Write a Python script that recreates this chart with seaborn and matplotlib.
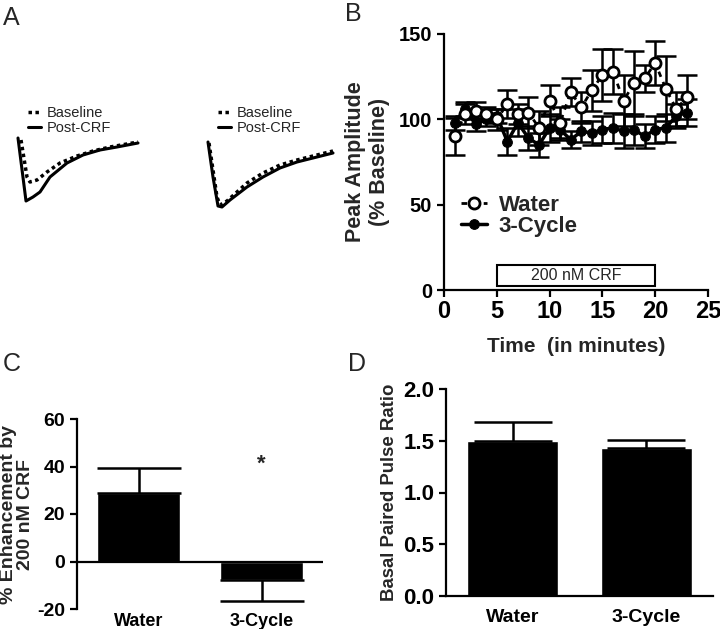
import matplotlib
matplotlib.use("Agg")
from matplotlib import pyplot as plt
from matplotlib.patches import Rectangle
import pandas as pd
import seaborn as sns
import numpy as np

# Panel A traces (time in ms, current in arbitrary units)
left_post_t = [0, 8, 15, 22, 32, 49, 65, 82, 99, 120]
left_post_i = [0, -63, -59, -54, -39, -25, -17, -12, -9, -5]
left_base_t = [3, 9, 12, 19, 29, 42, 59, 75, 92, 120]
left_base_i = [-2, -39, -44, -42, -34, -25, -18, -13, -9, -4]
right_post_t = [0, 5, 10, 14, 22, 39, 55, 72, 89, 105, 125]
right_post_i = [-1, -36, -65, -66, -59, -46, -36, -27, -21, -17, -12]
right_base_t = [1, 9, 12, 19, 29, 39, 55, 72, 89, 105, 125]
right_base_i = [-2, -56, -64, -60, -51, -42, -32, -24, -19, -15, -10]

# Panel B time course
minutes = list(range(1, 24))
water_amp = [90, 103, 105, 103, 100, 109, 103, 104, 95, 111, 98, 116,
             107, 117, 126, 128, 111, 121, 124, 133, 118, 106, 113]
water_sem = [11, 6, 5, 4, 6, 8, 6, 9, 10, 9, 9, 8,
             9, 12, 15, 13, 15, 19, 8, 13, 19, 10, 13]
cycle_amp = [98, 106, 97, 100, 102, 87, 98, 89, 85, 95, 94, 88,
             93, 92, 94, 95, 93, 94, 90, 94, 95, 102, 104]
cycle_sem = [4, 4, 4, 4, 4, 8, 8, 7, 7, 8, 6, 5,
             6, 7, 8, 9, 10, 9, 7, 8, 8, 7, 8]

# Panels C and D
groups = ["Water", "3-Cycle"]
enhancement = [28.8, -7.7]
enhancement_sem = [10.5, 8.9]
ppr = [1.50, 1.433]
ppr_sem = [0.184, 0.074]

sns.set_theme(style="ticks")
plt.rcParams["font.family"] = ["Liberation Sans", "DejaVu Sans"]
plt.rcParams["font.weight"] = "bold"
plt.rcParams["axes.labelweight"] = "bold"
plt.rcParams["axes.unicode_minus"] = False
plt.rcParams["axes.linewidth"] = 1.6
plt.rcParams["axes.edgecolor"] = "black"
for a in ["xtick", "ytick"]:
    plt.rcParams[a + ".major.width"] = 1.6
    plt.rcParams[a + ".major.size"] = 5
    plt.rcParams[a + ".color"] = "black"

W, H = 720, 629
fig = plt.figure(figsize=(7.2, 6.29), dpi=100)


def box(l, t, r, b):
    return [l / W, 1 - b / H, (r - l) / W, (b - t) / H]


# ---- Panel A
axA1 = fig.add_axes(box(10, 95, 150, 220))
axA1.plot(left_base_t, left_base_i, color="black", lw=2.5, ls=(0, (1, 1)), label="Baseline")
axA1.plot(left_post_t, left_post_i, color="black", lw=2.2, label="Post-CRF")
axA1.set_xlim(-8, 132)
axA1.set_ylim(-82, 43)
axA2 = fig.add_axes(box(195, 95, 345, 220))
axA2.plot(right_base_t, right_base_i, color="black", lw=2.5, ls=(0, (1, 1)), label="Baseline")
axA2.plot(right_post_t, right_post_i, color="black", lw=2.2, label="Post-CRF")
axA2.set_xlim(-13, 137)
axA2.set_ylim(-79, 46)
for ax, xa in [(axA1, 0.13), (axA2, 0.15)]:
    ax.axis("off")
    ax.legend(loc="upper left", bbox_to_anchor=(xa, 0.91), frameon=False,
              handlelength=0.9, handletextpad=0.4, labelspacing=0.05,
              borderaxespad=0, borderpad=0,
              prop={"size": 10.5, "weight": "normal"})

# ---- Panel B
axB = fig.add_axes(box(444, 34, 708, 290))
axB.errorbar(minutes, cycle_amp, yerr=cycle_sem, fmt="none", ecolor="black",
             elinewidth=1.8, capsize=7, capthick=1.8)
sns.lineplot(x=minutes, y=cycle_amp, ax=axB, color="black", lw=2.5,
             marker="o", markersize=7, markerfacecolor="black",
             markeredgecolor="black", label="3-Cycle")
axB.errorbar(minutes, water_amp, yerr=water_sem, fmt="none", ecolor="black",
             elinewidth=1.8, capsize=7, capthick=1.8)
sns.lineplot(x=minutes, y=water_amp, ax=axB, color="black", lw=2,
             linestyle=(0, (2, 2)), marker="o", markersize=8,
             markerfacecolor="white", markeredgecolor="black",
             markeredgewidth=2, label="Water")
h, lab = axB.get_legend_handles_labels()
axB.legend(h[::-1], lab[::-1], loc="upper left", bbox_to_anchor=(0.03, 0.405),
           frameon=False, handlelength=1.2, handletextpad=0.5,
           labelspacing=0.0, borderaxespad=0, prop={"size": 16, "weight": "bold"})
axB.add_patch(Rectangle((5, 2.5), 15, 12, fill=False, lw=1.5, ec="black"))
axB.text(12.5, 8.5, "200 nM CRF", ha="center", va="center", fontsize=11.5,
         fontweight="normal")
axB.set_xlim(0, 25)
axB.set_ylim(0, 150)
axB.set_xticks([0, 5, 10, 15, 20, 25])
axB.set_yticks([0, 50, 100, 150])
axB.tick_params(axis="x", labelsize=17, pad=2)
axB.tick_params(axis="y", labelsize=14.5)
axB.set_xlabel("Time  (in minutes)", fontsize=15, labelpad=10)
axB.set_ylabel("Peak Amplitude\n(% Baseline)", fontsize=15.5, labelpad=6)
sns.despine(ax=axB)

# ---- Panel C
axC = fig.add_axes(box(77, 419, 323, 609))
sns.barplot(x=groups, y=enhancement, ax=axC, color="black", width=0.68,
            saturation=1, errorbar=None)
axC.errorbar([0], [enhancement[0]], yerr=[[0], [enhancement_sem[0]]],
             fmt="none", ecolor="black", elinewidth=1.8, capsize=30, capthick=1.8)
axC.errorbar([1], [enhancement[1]], yerr=[[enhancement_sem[1]], [0]],
             fmt="none", ecolor="black", elinewidth=1.8, capsize=30, capthick=1.8)
axC.axhline(0, color="black", lw=1.6)
axC.text(1, 41, "*", ha="center", va="center", fontsize=16)
axC.set_xlim(-0.5, 1.5)
axC.set_ylim(-20, 60)
axC.set_yticks([-20, 0, 20, 40, 60])
axC.tick_params(axis="x", length=0, pad=3, labelsize=13)
axC.tick_params(axis="y", labelsize=14)
axC.set_ylabel("% Enhancement by\n200 nM CRF", fontsize=14, labelpad=2,
               linespacing=1.0)
sns.despine(ax=axC, bottom=True)

# ---- Panel D
axD = fig.add_axes(box(446, 389, 713, 596))
sns.barplot(x=groups, y=ppr, ax=axD, color="black", width=0.68,
            saturation=1, errorbar=None)
axD.errorbar([0, 1], ppr, yerr=[[0, 0], ppr_sem], fmt="none", ecolor="black",
             elinewidth=1.8, capsize=28, capthick=1.8)
axD.set_xlim(-0.5, 1.5)
axD.set_ylim(0, 2.0)
axD.set_yticks([0.0, 0.5, 1.0, 1.5, 2.0])
axD.yaxis.set_major_formatter(matplotlib.ticker.FormatStrFormatter("%.1f"))
axD.tick_params(axis="x", length=0, pad=9, labelsize=14)
axD.tick_params(axis="y", labelsize=16)
axD.set_ylabel("Basal Paired Pulse Ratio", fontsize=13.4, labelpad=4)
sns.despine(ax=axD)

# panel letters
for letter, x, y in [("A", 3, 6), ("B", 345, 2), ("C", 3, 352), ("D", 348, 352)]:
    fig.text(x / W, 1 - y / H, letter, ha="left", va="top", fontsize=18,
             fontweight="normal")

fig.savefig("out.png", dpi=100)
